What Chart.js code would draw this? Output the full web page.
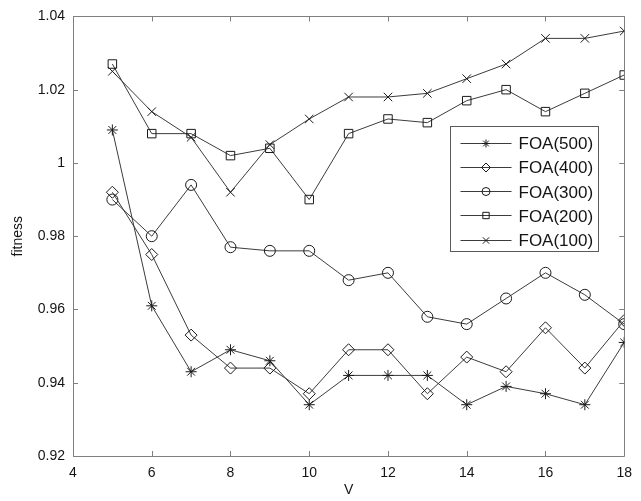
<!DOCTYPE html>
<html>
<head>
<meta charset="utf-8">
<style>
  html, body { margin: 0; padding: 0; background: #ffffff; }
  #wrap { width: 641px; height: 501px; position: relative; }
</style>
<script src="https://cdn.jsdelivr.net/npm/chart.js@4/dist/chart.umd.min.js"></script>
</head>
<body>
<div id="wrap"><canvas id="chart" width="641" height="501"></canvas></div>
<script>
// Number of V values
const vValues = [5, 6, 7, 8, 9, 10, 11, 12, 13, 14, 15, 16, 17, 18];

// Fitness per population size
const foa500 = [1.009, 0.961, 0.943, 0.949, 0.946, 0.934, 0.942, 0.942, 0.942, 0.934, 0.939, 0.937, 0.934, 0.951];
const foa400 = [0.992, 0.975, 0.953, 0.944, 0.944, 0.937, 0.949, 0.949, 0.937, 0.947, 0.943, 0.955, 0.944, 0.957];
const foa300 = [0.990, 0.980, 0.994, 0.977, 0.976, 0.976, 0.968, 0.970, 0.958, 0.956, 0.963, 0.970, 0.964, 0.956];
const foa200 = [1.027, 1.008, 1.008, 1.002, 1.004, 0.990, 1.008, 1.012, 1.011, 1.017, 1.020, 1.014, 1.019, 1.024];
const foa100 = [1.025, 1.014, 1.007, 0.992, 1.005, 1.012, 1.018, 1.018, 1.019, 1.023, 1.027, 1.034, 1.034, 1.036];

const seriesLabels = ['FOA(500)', 'FOA(400)', 'FOA(300)', 'FOA(200)', 'FOA(100)'];

// Axis ticks
const xTickValues = [4, 6, 8, 10, 12, 14, 16, 18];
const yTickValues = [0.92, 0.94, 0.96, 0.98, 1.00, 1.02, 1.04];
const yTickLabels = ['0.92', '0.94', '0.96', '0.98', '1', '1.02', '1.04'];

const FONT = "'Liberation Sans', Arial, sans-serif";
const LINE_COLOR = '#3c3c3c';
const MARK_COLOR = '#1a1a1a';
const AXIS_COLOR = '#7f7f7f';

const markers = [
  { style: 'star',     radius: 5.5 },
  { style: 'rectRot',  radius: 6 },
  { style: 'circle',   radius: 5.5 },
  { style: 'rect',     radius: 6 },
  { style: 'crossRot', radius: 6 }
];
const seriesValues = [foa500, foa400, foa300, foa200, foa100];

const datasets = seriesValues.map((vals, i) => ({
  label: seriesLabels[i],
  data: vValues.map((v, j) => ({ x: v, y: vals[j] })),
  borderColor: LINE_COLOR,
  borderWidth: 1,
  backgroundColor: 'rgba(0,0,0,0)',
  pointStyle: markers[i].style,
  pointRadius: markers[i].radius,
  pointHoverRadius: markers[i].radius,
  pointBorderColor: MARK_COLOR,
  pointBackgroundColor: 'rgba(0,0,0,0)',
  pointBorderWidth: 1,
  tension: 0,
  fill: false
}));

// Axes box with inward tick marks on all four sides
const boxPlugin = {
  id: 'boxAxes',
  beforeDatasetsDraw(chart) {
    const { ctx, chartArea: a, scales } = chart;
    const len = 5;
    ctx.save();
    ctx.strokeStyle = AXIS_COLOR;
    ctx.lineWidth = 1;
    ctx.beginPath();
    ctx.rect(Math.round(a.left) + 0.5, Math.round(a.top) + 0.5,
             Math.round(a.right - a.left), Math.round(a.bottom - a.top));
    xTickValues.forEach(v => {
      const px = Math.round(scales.x.getPixelForValue(v)) + 0.5;
      ctx.moveTo(px, a.bottom); ctx.lineTo(px, a.bottom - len);
      ctx.moveTo(px, a.top); ctx.lineTo(px, a.top + len);
    });
    yTickValues.forEach(v => {
      const py = Math.round(scales.y.getPixelForValue(v)) + 0.5;
      ctx.moveTo(a.left, py); ctx.lineTo(a.left + len, py);
      ctx.moveTo(a.right, py); ctx.lineTo(a.right - len, py);
    });
    ctx.stroke();
    ctx.restore();
  }
};

// Legend box inside the plot area
const legendPlugin = {
  id: 'insideLegend',
  afterDraw(chart) {
    const { ctx, chartArea: a } = chart;
    const w = 148, h = 125;
    const left = Math.round(a.right - 26 - w) + 0.5;
    const top = Math.round(a.top + 110) + 0.5;
    ctx.save();
    ctx.fillStyle = '#ffffff';
    ctx.fillRect(left, top, w, h);
    ctx.strokeStyle = '#5a5a5a';
    ctx.lineWidth = 1;
    ctx.strokeRect(left, top, w, h);
    ctx.font = '17px ' + FONT;
    ctx.textBaseline = 'middle';
    ctx.textAlign = 'left';
    chart.data.datasets.forEach((ds, i) => {
      const y = top + 16 + i * 24.3;
      const x0 = left + 10, x1 = left + 61;
      ctx.strokeStyle = LINE_COLOR;
      ctx.beginPath();
      ctx.moveTo(x0, Math.round(y) + 0.5);
      ctx.lineTo(x1, Math.round(y) + 0.5);
      ctx.stroke();
      ctx.strokeStyle = MARK_COLOR;
      ctx.fillStyle = 'rgba(0,0,0,0)';
      Chart.helpers.drawPoint(ctx, {
        pointStyle: ds.pointStyle,
        radius: Math.max(ds.pointRadius - 1.5, 3.5),
        rotation: 0,
        borderWidth: 1
      }, (x0 + x1) / 2, Math.round(y) + 0.5);
      ctx.fillStyle = '#141414';
      ctx.fillText(ds.label, left + 68, y + 2);
    });
    ctx.restore();
  }
};

new Chart(document.getElementById('chart'), {
  type: 'line',
  data: { datasets },
  options: {
    responsive: false,
    animation: false,
    events: [],
    layout: { padding: { top: 15, right: 8, left: 0, bottom: 0 } },
    plugins: {
      legend: { display: false },
      tooltip: { enabled: false }
    },
    scales: {
      x: {
        type: 'linear',
        min: 4,
        max: 18,
        afterBuildTicks(scale) { scale.ticks = xTickValues.map(v => ({ value: v })); },
        afterFit(scale) { scale.height = 45; },
        grid: { display: false, drawTicks: false },
        border: { display: false },
        ticks: {
          padding: 9,
          color: '#141414',
          font: { family: FONT, size: 14 },
          maxRotation: 0,
          callback: v => String(v)
        },
        title: {
          display: true,
          text: 'V',
          color: '#141414',
          font: { family: FONT, size: 14 },
          padding: { top: 0, bottom: 2 }
        }
      },
      y: {
        type: 'linear',
        min: 0.92,
        max: 1.04,
        afterBuildTicks(scale) { scale.ticks = yTickValues.map(v => ({ value: v })); },
        afterFit(scale) { scale.width = 73; },
        grid: { display: false, drawTicks: false },
        border: { display: false },
        ticks: {
          padding: 8,
          color: '#141414',
          font: { family: FONT, size: 14 },
          callback: (v, i) => yTickLabels[i]
        },
        title: {
          display: true,
          text: 'fitness',
          color: '#141414',
          font: { family: FONT, size: 14 },
          padding: { top: 10, bottom: 0 }
        }
      }
    }
  },
  plugins: [boxPlugin, legendPlugin]
});
</script>
</body>
</html>
